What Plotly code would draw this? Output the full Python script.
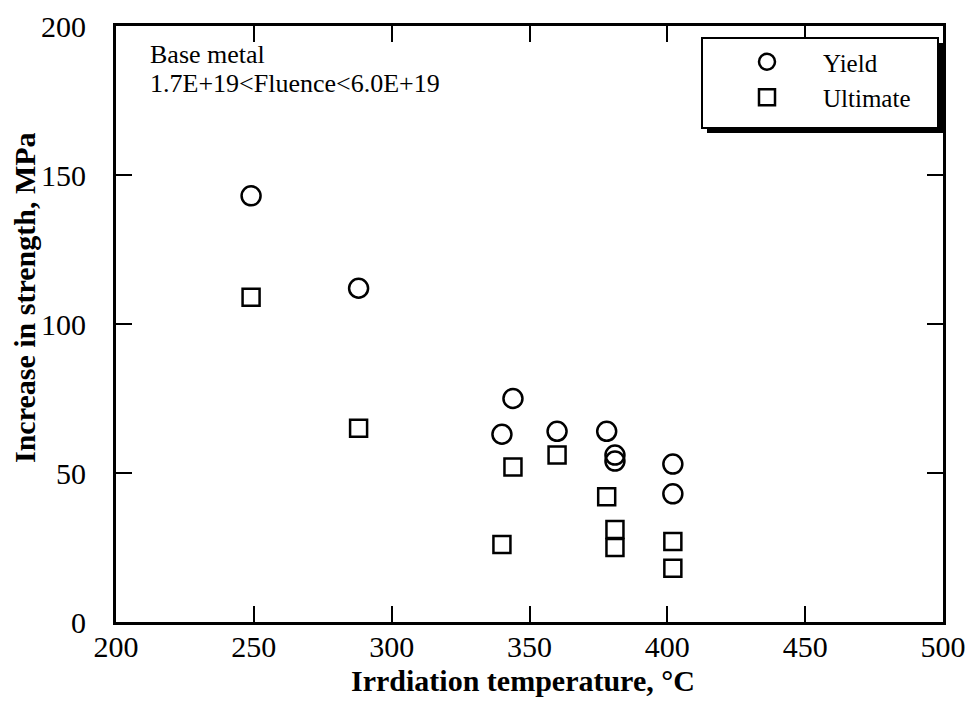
import plotly.graph_objects as go

temp_yield = [249, 288, 340, 344, 360, 378, 381, 381, 402, 402]
yield_inc = [143, 112, 63, 75, 64, 64, 56, 54, 53, 43]
temp_ult = [249, 288, 340, 344, 360, 378, 381, 381, 402, 402]
ult_inc = [109, 65, 26, 52, 56, 42, 31, 25, 27, 18]
x_ticks = [200, 250, 300, 350, 400, 450, 500]
y_ticks = [0, 50, 100, 150, 200]

FONT = "Liberation Serif"
OFF = 8  # page body margin
W, H = 968, 693
L, R, T, B = 108, 33, 18, 79
PW, PH = W - L - R, H - T - B

def px2paper(px, py):
    # screen pixel -> paper coordinates
    return (px - OFF - L) / PW, (H - B - (py - OFF)) / PH

fig = go.Figure()
fig.add_trace(go.Scatter(
    x=temp_yield, y=yield_inc, mode="markers", name="Yield",
    marker=dict(symbol="circle-open", size=19, color="black", line=dict(width=2.5, color="black")),
))
fig.add_trace(go.Scatter(
    x=temp_ult, y=ult_inc, mode="markers", name="Ultimate",
    marker=dict(symbol="square-open", size=17, color="black", line=dict(width=2.5, color="black")),
))

# legend box with shadow
x0, y0 = px2paper(707, 133)
x1, y1 = px2paper(943, 43)
fig.add_shape(type="rect", xref="paper", yref="paper", x0=x0, y0=y0, x1=x1, y1=y1,
              fillcolor="black", line=dict(width=0), layer="above")
x0, y0 = px2paper(702, 128)
x1, y1 = px2paper(938, 38)
fig.add_shape(type="rect", xref="paper", yref="paper", x0=x0, y0=y0, x1=x1, y1=y1,
              fillcolor="white", line=dict(width=2, color="black"), layer="above")

lx, ly = px2paper(711, 39)
fig.update_layout(
    width=W, height=H,
    margin=dict(l=L, r=R, t=T, b=B),
    paper_bgcolor="white", plot_bgcolor="white",
    font=dict(family=FONT, color="black", size=27),
    showlegend=True,
    legend=dict(x=lx, y=ly, xanchor="left", yanchor="top", bgcolor="rgba(0,0,0,0)",
                borderwidth=0, font=dict(family=FONT, size=25), itemwidth=102,
                tracegroupgap=0),
    xaxis=dict(range=[200, 500], tickvals=x_ticks, ticks="inside", ticklen=16, tickwidth=2,
               tickcolor="black", showline=True, linewidth=3, linecolor="black", mirror="ticks",
               showgrid=False, zeroline=False, tickfont=dict(family=FONT, size=30),
               ticklabelstandoff=-4, automargin=False),
    yaxis=dict(range=[0, 200], tickvals=y_ticks, ticks="inside", ticklen=16, tickwidth=2,
               tickcolor="black", showline=True, linewidth=3, linecolor="black", mirror="ticks",
               showgrid=False, zeroline=False, tickfont=dict(family=FONT, size=30),
               ticklabelstandoff=21, automargin=False),
)

ax, ay = px2paper(523, 680)
fig.add_annotation(xref="paper", yref="paper", x=ax, y=ay, xanchor="center", yanchor="middle",
                   text="<b>Irrdiation temperature, °C</b>", showarrow=False,
                   font=dict(family=FONT, size=30))
ax, ay = px2paper(24, 298)
fig.add_annotation(xref="paper", yref="paper", x=ax, y=ay, xanchor="center", yanchor="middle",
                   text="<b>Increase in strength, MPa</b>", showarrow=False, textangle=-90,
                   font=dict(family=FONT, size=30))

ax, ay = px2paper(148, 54)
fig.add_annotation(xref="paper", yref="paper", x=ax, y=ay, xanchor="left", yanchor="middle",
                   text="Base metal", showarrow=False, font=dict(family=FONT, size=26))
ax, ay = px2paper(148, 83)
fig.add_annotation(xref="paper", yref="paper", x=ax, y=ay, xanchor="left", yanchor="middle",
                   text="1.7E+19<Fluence<6.0E+19", showarrow=False, font=dict(family=FONT, size=26))

fig.write_html("out.html")
